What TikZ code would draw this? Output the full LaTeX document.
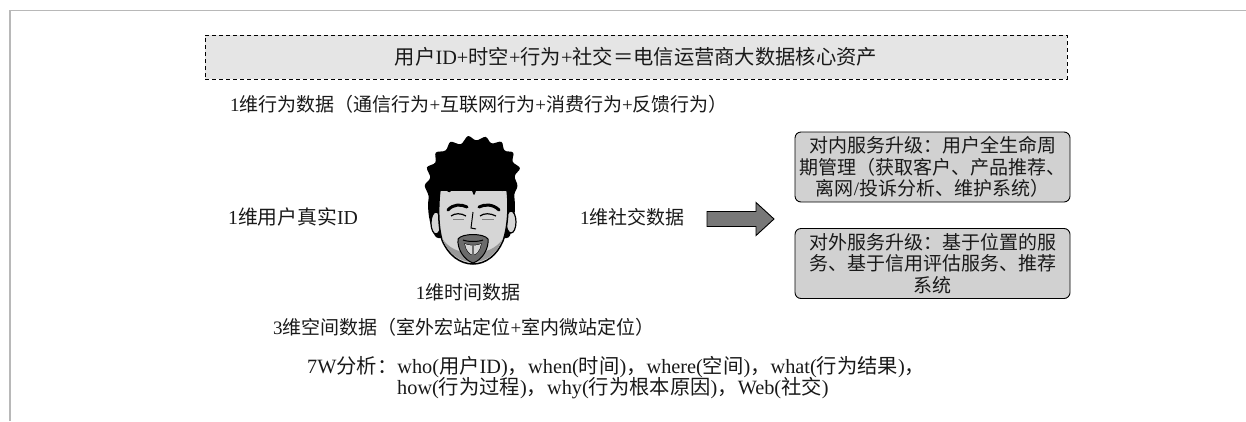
\documentclass[tikz,border=0pt]{standalone}
\usepackage{fontspec}
\setmainfont{Liberation Serif}
\newfontfamily\cjk{Noto Sans CJK SC}

% Switch to the CJK family automatically for ideographs and full-width punctuation
\XeTeXinterchartokenstate=1
\ifdefined\newXeTeXintercharclass
  \newXeTeXintercharclass\cjkcls
\else
  \chardef\cjkcls=7
\fi
\newcount\cjkcc
\def\cjkrange#1#2{\cjkcc=#1 \loop\ifnum\cjkcc<#2 \XeTeXcharclass\cjkcc=\cjkcls \advance\cjkcc by 1 \repeat}
\cjkrange{"3000}{"3040}
\cjkrange{"4E00}{"A000}
\cjkrange{"FF00}{"FFF0}
\XeTeXinterchartoks 0 \cjkcls = {\cjk}
\XeTeXinterchartoks 4095 \cjkcls = {\cjk}
\XeTeXinterchartoks \cjkcls 0 = {\rmfamily}
\XeTeXinterchartoks \cjkcls 4095 = {\rmfamily}

\definecolor{framegray}{gray}{0.72}
\definecolor{titlefill}{gray}{0.90}
\definecolor{boxfill}{gray}{0.82}
\definecolor{arrowfill}{gray}{0.47}
\definecolor{skin}{gray}{0.84}
\definecolor{stubble}{gray}{0.60}
\definecolor{beard}{gray}{0.42}
\definecolor{ink}{gray}{0.10}

\tikzset{
  txt/.style={inner sep=0pt, text=ink, font=\fontsize{19}{21.5}\selectfont},
  bigtxt/.style={txt, font=\fontsize{20.3}{22}\selectfont},
  titlebox/.style={bigtxt, draw=black, line width=0.9pt, dash pattern=on 4pt off 3pt,
    fill=titlefill, minimum width=862pt, minimum height=44pt},
  svcbox/.style={txt, draw=black, line width=0.9pt, fill=boxfill, rounded corners=6pt,
    minimum width=275pt, minimum height=70pt, align=center},
  blockarrow/.style={draw=black, line width=0.9pt, fill=arrowfill},
  frameline/.style={draw=framegray, line width=1.6pt}
}

\begin{document}
\begin{tikzpicture}[x=1pt, y=-1pt]
\useasboundingbox (0,0) rectangle (1246,421);

% page frame
\draw[frameline] (10,421) -- (10,10.5) -- (1246,10.5);

% headline
\node[titlebox] (title) at (636,57) {用户ID+时空+行为+社交＝电信运营商大数据核心资产};

% data dimensions
\node[txt, anchor=west] (behav) at (230,104) {1维行为数据（通信行为+互联网行为+消费行为+反馈行为）};
\node[txt, anchor=west, font=\fontsize{19.8}{21.5}\selectfont] (uid) at (228,217) {1维用户真实ID};
\node[txt, anchor=west] (social) at (580,217) {1维社交数据};
\node[txt] (time) at (468,292) {1维时间数据};
\node[txt, anchor=west] (space) at (273,327) {3维空间数据（室外宏站定位+室内微站定位）};
\node[bigtxt, anchor=west] (sevenw) at (307,367) {7W分析：who(用户ID)，when(时间)，where(空间)，what(行为结果)，};
\node[bigtxt, anchor=west] (sevenwb) at (397,388) {how(行为过程)，why(行为根本原因)，Web(社交)};

% services
\node[svcbox] (inner) at (932.5,167) {对内服务升级：用户全生命周\\期管理（获取客户、产品推荐、\\离网/投诉分析、维护系统）};
\node[svcbox] (outer) at (932.5,263.5) {对外服务升级：基于位置的服\\务、基于信用评估服务、推荐\\系统};

% block arrow
\coordinate (arrowtail) at (707,219);
\draw[blockarrow] (arrowtail) ++(0,-7.5) -- ++(49,0) -- ++(0,-9) -- ++(18,16.5)
  -- ++(-18,16.5) -- ++(0,-9) -- ++(-49,0) -- cycle;

% the user's face
\begin{scope}
  % back hair
  \fill[black, rounded corners=2.5pt] (436,238) .. controls (429,224) and (427,208) .. (429,196)
    -- (424,185) -- (431,178) -- (426,167) -- (436,163) -- (435,152) -- (446,151)
    -- (450,141) -- (461,145) -- (468,135) -- (476,141) -- (486,136) -- (491,144)
    -- (502,141) -- (504,151) -- (514,152) -- (512,162) -- (521,168) -- (514,176)
    -- (518,186) -- (514,194) .. controls (516,210) and (514,225) .. (509,238) -- cycle;
  % ears
  \filldraw[fill=skin, draw=black, line width=1.2pt] (436,223) ellipse [x radius=5, y radius=11];
  \filldraw[fill=skin, draw=black, line width=1.2pt] (511,222) ellipse [x radius=5, y radius=11];
  % face
  \filldraw[fill=skin, draw=black, line width=1.5pt] (440,190)
    .. controls (438,205) and (438,226) .. (442,240)
    .. controls (448,255) and (460,264) .. (473,264)
    .. controls (486,264) and (497,255) .. (503,241)
    .. controls (508,227) and (509,205) .. (507,190) -- cycle;
  % jaw stubble
  \fill[stubble] (442,238) .. controls (448,254) and (460,262) .. (473,262)
    .. controls (486,262) and (497,254) .. (502,240)
    .. controls (496,248) and (486,253) .. (473,253)
    .. controls (459,253) and (448,248) .. (442,238) -- cycle;
  % goatee
  \filldraw[fill=beard, draw=black, line width=1pt, even odd rule] (458,239)
    .. controls (462,233) and (484,233) .. (488,239)
    .. controls (489,249) and (482,260) .. (473,263)
    .. controls (464,260) and (457,249) .. (458,239) -- cycle
    (465,244) .. controls (469,246) and (477,246) .. (481,244)
    .. controls (480,250) and (477,254) .. (473,255)
    .. controls (469,254) and (466,250) .. (465,244) -- cycle;
  \fill[skin] (465,244) .. controls (469,246) and (477,246) .. (481,244)
    .. controls (480,250) and (477,254) .. (473,255)
    .. controls (469,254) and (466,250) .. (465,244) -- cycle;
  \draw[line width=1pt] (463,240) .. controls (468,242) and (478,242) .. (483,240);
  \draw[beard, line width=1.6pt] (473,245) -- (473,256);
  % fringe
  \fill[black, rounded corners=2pt] (437,205) -- (440,186) -- (450,193) -- (455,182)
    -- (463,189) -- (468,180) -- (474,196) -- (479,183) -- (488,191) -- (495,182)
    -- (502,192) -- (509,186) -- (510,205) -- (514,180) -- (470,168) -- (433,180) -- cycle;
  % brows and eyes
  \draw[line width=3pt, line cap=round] (448,210) .. controls (453,204) and (461,204) .. (467,207);
  \draw[line width=3pt, line cap=round] (479,207) .. controls (485,204) and (493,204) .. (499,210);
  \draw[line width=1.2pt] (451,216) .. controls (455,213) and (461,213) .. (466,216);
  \draw[line width=1.2pt] (480,216) .. controls (484,213) and (490,213) .. (496,216);
  \draw[gray, line width=0.8pt] (453,219) -- (464,219);
  \draw[gray, line width=0.8pt] (482,219) -- (494,219);
  % nose
  \draw[line width=1pt] (473,212) -- (471,228) -- (476,229);
\end{scope}
\end{tikzpicture}
\end{document}
